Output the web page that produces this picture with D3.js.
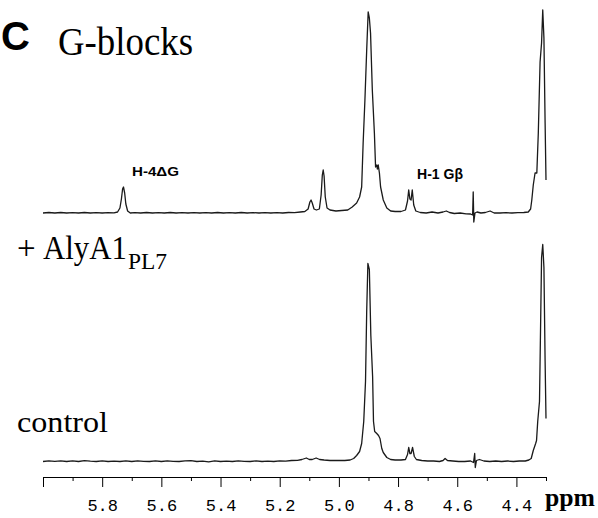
<!DOCTYPE html>
<html>
<head>
<meta charset="utf-8">
<script src="https://cdnjs.cloudflare.com/ajax/libs/d3/7.8.5/d3.min.js"></script>
<style>
body { margin: 0; background: #fff; }
</style>
</head>
<body>
<div id="chart"></div>
<script>
// spectra as [ppm, intensity] pairs
var treated = [[6.000,0],[5.980,0.5],[5.960,0],[5.940,0.5],[5.920,0],[5.900,0.4],[5.880,0],[5.860,0.5],[5.840,0],[5.820,0.4],
	[5.800,0],[5.780,0.4],[5.760,0.2],[5.748,1],[5.740,5],[5.735,14],[5.731,24],[5.728,26],[5.724,20],[5.720,9],[5.714,2],
	[5.705,0],[5.690,0.4],[5.670,0],[5.650,0.5],[5.630,0],[5.610,0.3],[5.590,0],[5.570,0.5],[5.550,0],[5.530,0.4],[5.510,0],
	[5.490,0.4],[5.470,0],[5.450,0.3],[5.430,0],[5.410,0.5],[5.390,0],[5.370,0.3],[5.350,0],[5.330,0.5],[5.310,0],[5.290,0.4],
	[5.270,0],[5.250,0.4],[5.230,0],[5.210,0.4],[5.190,0],[5.170,0.5],[5.150,0.3],[5.130,1],[5.115,1.5],[5.104,4],[5.098,11],
	[5.094,13],[5.090,10],[5.084,4],[5.076,3],[5.066,4],[5.060,18],[5.056,38],[5.053,43],[5.050,37],[5.046,16],[5.040,5],
	[5.030,3],[5.010,2],[4.990,2.5],[4.970,3],[4.955,6],[4.940,10],[4.930,16],[4.923,26],[4.918,70],[4.912,113],[4.906,163],
	[4.901,201],[4.897,195],[4.893,180],[4.887,123],[4.880,80],[4.876,46],[4.872,48],[4.870,44],[4.867,48],[4.863,40],
	[4.859,26],[4.850,13],[4.838,5],[4.825,2],[4.810,1.5],[4.790,1.5],[4.775,3],[4.768,12],[4.764,23],[4.760,14],[4.756,13],
	[4.752,23],[4.747,8],[4.740,2],[4.725,0.5],[4.705,0],[4.685,1],[4.665,0],[4.648,1],[4.637,2],[4.626,0.5],[4.610,-0.5],
	[4.590,0],[4.570,-0.8],[4.555,-1],[4.548,-2],[4.546,21],[4.544,-9],[4.540,0],[4.533,1],[4.520,0],[4.505,0.5],[4.489,2],
	[4.475,0],[4.455,0],[4.435,0.3],[4.415,0],[4.395,0.3],[4.375,0.5],[4.360,1],[4.352,4],[4.348,13],[4.343,28],[4.337,40],
	[4.331,40],[4.326,80],[4.320,151],[4.315,170],[4.311,203],[4.307,175],[4.303,90],[4.300,33]];

var control = [[6.000,0],[5.980,0.6],[5.960,0.2],[5.940,0.7],[5.920,0],[5.900,0.6],[5.880,0],[5.860,0.9],[5.840,0.3],[5.820,0],
	[5.800,0.6],[5.780,0],[5.760,0.4],[5.740,0],[5.720,0.7],[5.700,0],[5.680,0.7],[5.660,0.2],[5.640,0],[5.620,0.6],[5.600,0],
	[5.580,0.7],[5.560,0.2],[5.540,0],[5.520,0.6],[5.500,0.9],[5.480,0],[5.460,0.4],[5.440,-0.4],[5.420,0.6],[5.400,0],
	[5.380,0.3],[5.360,0],[5.340,0.7],[5.320,0.2],[5.300,0],[5.280,0.7],[5.260,0],[5.240,0.4],[5.220,0],[5.200,0.6],[5.180,0.4],
	[5.160,1],[5.140,1.2],[5.125,2],[5.110,3.5],[5.100,2],[5.090,2],[5.077,3.5],[5.065,2],[5.050,1.5],[5.030,1],[5.000,1],
	[4.980,1],[4.962,1.5],[4.950,3],[4.940,6],[4.930,10],[4.923,18],[4.916,40],[4.910,80],[4.906,150],[4.902,198],[4.897,192],
	[4.892,126],[4.886,85],[4.883,40],[4.879,30],[4.872,28],[4.866,26],[4.861,23],[4.855,13],[4.850,9],[4.838,4],[4.825,2],
	[4.810,1.5],[4.790,1.5],[4.775,2],[4.768,7],[4.764,14],[4.760,8],[4.756,8],[4.751,14],[4.745,5],[4.738,2],[4.720,1],
	[4.700,0.5],[4.680,0.5],[4.660,0],[4.648,1],[4.641,3],[4.633,1],[4.615,0.5],[4.595,0],[4.575,0],[4.555,0.5],[4.545,-1],
	[4.541,8],[4.539,-6],[4.535,1],[4.525,2],[4.510,0.5],[4.490,0],[4.470,0.5],[4.450,0],[4.430,0.5],[4.410,0],[4.390,0.5],
	[4.370,0.5],[4.358,1.5],[4.350,3],[4.343,11],[4.335,18],[4.332,21],[4.328,40],[4.322,60],[4.319,121],[4.315,204],
	[4.311,217],[4.307,194],[4.303,100],[4.300,43]];

var majorTicks = [6.0, 5.8, 5.6, 5.4, 5.2, 5.0, 4.8, 4.6, 4.4];
var minorTicks = [5.9, 5.7, 5.5, 5.3, 5.1, 4.9, 4.7, 4.5, 4.3];
var tickLabels = ["", "5.8", "5.6", "5.4", "5.2", "5.0", "4.8", "4.6", "4.4"];

function init() {

	var w = 598;
	var h = 518;

	// ppm axis runs right to left
	var xScale = d3.scaleLinear()
					.domain([6.0, 4.3])
					.range([43, 546]);

	var yTop = d3.scaleLinear()
					.domain([0, 200])
					.range([213, 13]);

	var yBottom = d3.scaleLinear()
					.domain([0, 200])
					.range([461.5, 261.5]);

	var svg = d3.select("#chart")
			.append("svg")
			.attr("width", w)
			.attr("height", h)
			.style("background", "#fff");

	function drawSpectrum(data, yScale) {
		var line = d3.line()
			.x(function(d) { return xScale(d[0]); })
			.y(function(d) { return yScale(d[1]); });
		svg.append("path")
			.datum(data)
			.attr("d", line)
			.attr("fill", "none")
			.attr("stroke", "#1a1a1a")
			.attr("stroke-width", 1.3)
			.attr("stroke-linejoin", "round");
	}

	drawSpectrum(treated, yTop);
	drawSpectrum(control, yBottom);

	//Axis
	var xAxis = d3.axisBottom(xScale)
				.tickValues(majorTicks)
				.tickSize(10)
				.tickSizeOuter(0)
				.tickFormat(function(d, i) { return tickLabels[i]; });

	var minorAxis = d3.axisBottom(xScale)
				.tickValues(minorTicks)
				.tickSize(4)
				.tickFormat("");

	var ax = svg.append("g")
		.attr("transform", "translate(0, 477)")
		.call(xAxis);
	ax.select(".domain").attr("stroke", "#000");
	ax.selectAll(".tick line").attr("stroke", "#000");
	ax.selectAll(".tick text")
		.attr("y", 34)
		.attr("dy", 0)
		.attr("fill", "#000")
		.attr("font-family", "'Liberation Mono', 'DejaVu Sans Mono', monospace")
		.attr("font-size", "17px");

	var mx = svg.append("g")
		.attr("transform", "translate(0, 477)")
		.call(minorAxis);
	mx.select(".domain").remove();
	mx.selectAll(".tick line").attr("stroke", "#000");

	// texts
	var serif = "'Liberation Serif', 'Times New Roman', serif";
	var sans = "'Liberation Sans', Arial, sans-serif";

	function label(txt, x, y, font, size, weight, len) {
		var t = svg.append("text")
			.attr("x", x)
			.attr("y", y)
			.attr("font-family", font)
			.attr("font-size", size + "px")
			.attr("font-weight", weight)
			.attr("fill", "#000")
			.text(txt);
		if (len) t.attr("textLength", len).attr("lengthAdjust", "spacingAndGlyphs");
		return t;
	}

	label("C", 1, 50, sans, 40, "bold", null);
	label("G-blocks", 58, 54.5, serif, 40, "normal", 135);
	label("H-4\u0394G", 132, 176, sans, 13, "bold", 47);
	label("H-1 G\u03b2", 417, 179, sans, 14, "bold", 46);
	label("+", 17, 259, serif, 33, "normal", null);
	label("AlyA1", 43, 259, serif, 33, "normal", 84);
	label("PL7", 128, 269, serif, 23, "normal", 39);
	label("control", 17, 432, serif, 29, "normal", 91);
	label("ppm", 545, 506, serif, 26, "bold", 50);
}

window.onload = init;
</script>
</body>
</html>
